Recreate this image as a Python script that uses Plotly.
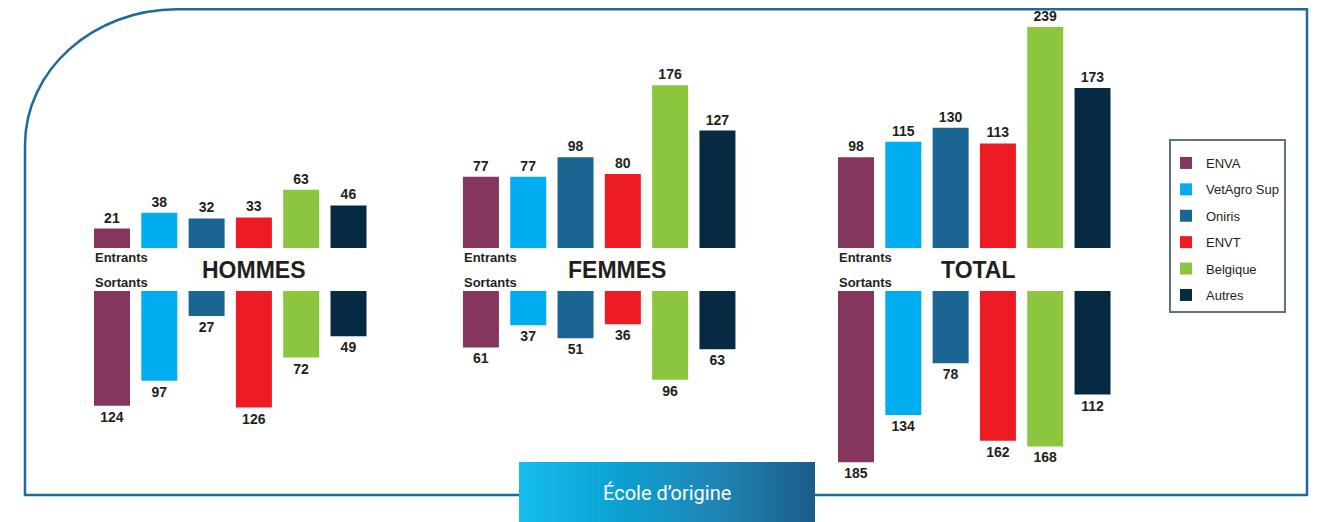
import plotly.graph_objects as go

# ---------------- data ----------------
groups = ["HOMMES", "FEMMES", "TOTAL"]
schools = ["ENVA", "VetAgro Sup", "Oniris", "ENVT", "Belgique", "Autres"]
entrants = {
    "HOMMES": [21, 38, 32, 33, 63, 46],
    "FEMMES": [77, 77, 98, 80, 176, 127],
    "TOTAL":  [98, 115, 130, 113, 239, 173],
}
sortants = {
    "HOMMES": [124, 97, 27, 126, 72, 49],
    "FEMMES": [61, 37, 51, 36, 96, 63],
    "TOTAL":  [185, 134, 78, 162, 168, 112],
}
colors = ["#84365f", "#00aeef", "#1b6592", "#ed1c24", "#8cc63f", "#062a42"]
caption = "École d’origine"
label_in = "Entrants"
label_out = "Sortants"

# ---------------- layout geometry ----------------
# the page body has an 8px margin, so the figure is drawn 8px in from the corner
OFF = 8
W, H = 1319 - OFF, 522 - OFF
pitch = 47.3            # px per bar slot
first_px = 112.0        # pixel centre of first bar (page coords)
group_start = [0.0, 7.80, 15.73]
k = 0.925               # px per unit
mid_px = 269.5
G = 21.5 / k            # half gap (units)

x_range = [(OFF - first_px) / pitch, (1319 - first_px) / pitch]
y_range = [-(522 - mid_px) / k, (mid_px - OFF) / k]

FONT = "Liberation Sans, Arial, Helvetica, sans-serif"
TXT = "#231f20"

fig = go.Figure()
for i, s in enumerate(schools):
    xs, ys, bases, texts = [], [], [], []
    for g, name in enumerate(groups):
        xs.append(group_start[g] + i)
        ys.append(entrants[name][i])
        bases.append(G)
        texts.append(str(entrants[name][i]))
    for g, name in enumerate(groups):
        xs.append(group_start[g] + i)
        ys.append(-sortants[name][i])
        bases.append(-G)
        texts.append(str(sortants[name][i]))
    fig.add_trace(go.Bar(
        x=xs, y=ys, base=bases, name=s, legendgroup=s,
        marker=dict(color=colors[i], line=dict(width=0)),
        width=36 / pitch,
        text=texts, textposition="outside", textangle=0,
        outsidetextfont=dict(family=FONT, size=14, color=TXT, weight="bold"),
        constraintext="none", cliponaxis=False,
        hoverinfo="skip",
    ))

annotations = []
title_off = [3.0, 2.88, 2.58]
for g, name in enumerate(groups):
    x_left = group_start[g] - 0.40
    annotations.append(dict(x=x_left, y=0, xref="x", yref="y", text=label_in,
                            xanchor="left", yanchor="middle", yshift=12, showarrow=False,
                            font=dict(family=FONT, size=13, color=TXT, weight="bold")))
    annotations.append(dict(x=x_left, y=0, xref="x", yref="y", text=label_out,
                            xanchor="left", yanchor="middle", yshift=-13, showarrow=False,
                            font=dict(family=FONT, size=13, color=TXT, weight="bold")))
    annotations.append(dict(x=group_start[g] + title_off[g], y=0, xref="x", yref="y",
                            text=name, xanchor="center", yanchor="middle", showarrow=False,
                            font=dict(family=FONT, size=23, color=TXT, weight="bold")))

def px(X):
    return (X - OFF) / W

def py(Y):
    return 1 - (Y - OFF) / H

# rounded border (top-left corner)
L, R, T, B = 25, 1307, 9.3, 495
rx, ry, kk = 152, 136, 0.5523
path = (f"M {px(L)},{py(B)} L {px(L)},{py(T + ry)} "
        f"C {px(L)},{py(T + ry * (1 - kk))} {px(L + rx * (1 - kk))},{py(T)} {px(L + rx)},{py(T)} "
        f"L {px(R)},{py(T)} L {px(R)},{py(B)} Z")
shapes = [dict(type="path", path=path, xref="paper", yref="paper",
               line=dict(color="#1f6a96", width=2.5), layer="below")]

# legend frame
shapes.append(dict(type="rect", xref="paper", yref="paper",
                   x0=px(1170), x1=px(1285), y0=py(312), y1=py(140),
                   line=dict(color="#5d7585", width=2), fillcolor="white", layer="below"))

# gradient caption box
bx0, bx1, by0, by1 = 519, 815, 462, 522
stops = [(0.0, (22, 190, 238)), (0.35, (10, 160, 208)), (0.65, (30, 135, 182)), (1.0, (27, 93, 138))]

def col(t):
    for (t0, c0), (t1, c1) in zip(stops[:-1], stops[1:]):
        if t <= t1:
            f = (t - t0) / (t1 - t0)
            return "rgb(%d,%d,%d)" % tuple(round(a + (b - a) * f) for a, b in zip(c0, c1))
    return "rgb(%d,%d,%d)" % stops[-1][1]

N = 74
sw = (bx1 - bx0) / N
for j in range(N):
    shapes.append(dict(type="rect", xref="paper", yref="paper",
                       x0=px(bx0 + j * sw), x1=px(min(bx0 + (j + 1) * sw + 0.6, bx1)),
                       y0=py(by1), y1=py(by0), line=dict(width=0),
                       fillcolor=col((j + 0.5) / N), layer="above"))
annotations.append(dict(x=px((bx0 + bx1) / 2), y=py(493), xref="paper", yref="paper",
                        text=caption, showarrow=False, xanchor="center", yanchor="middle",
                        font=dict(family="Roboto, Open Sans, sans-serif", size=20, color="white")))

fig.update_layout(
    width=W, height=H,
    margin=dict(l=0, r=0, t=0, b=0, autoexpand=False),
    paper_bgcolor="white", plot_bgcolor="white",
    barmode="overlay",
    xaxis=dict(range=x_range, visible=False, fixedrange=True),
    yaxis=dict(range=y_range, visible=False, fixedrange=True),
    showlegend=True,
    legend=dict(x=px(1166), y=py(148), xanchor="left", yanchor="top",
                borderwidth=0, bgcolor="rgba(0,0,0,0)",
                font=dict(family=FONT, size=13, color=TXT),
                tracegroupgap=6.5, traceorder="grouped"),
    shapes=shapes,
    annotations=annotations,
)

fig.write_html("out.html")
